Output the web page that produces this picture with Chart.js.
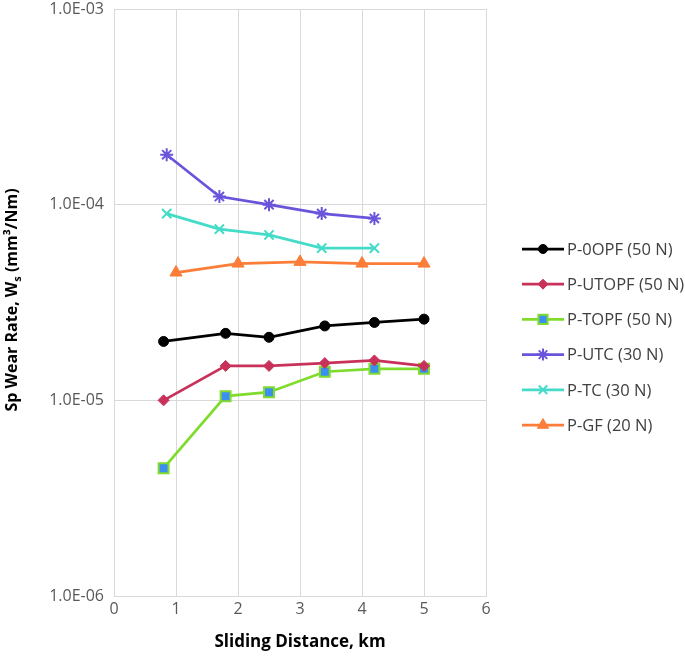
<!DOCTYPE html>
<html>
<head>
<meta charset="utf-8">
<script src="https://cdn.jsdelivr.net/npm/chart.js@4"></script>
<style>
  html, body { margin: 0; padding: 0; background: #fff; }
  #wrap { width: 685px; height: 657px; }
</style>
</head>
<body>
<div id="wrap"><canvas id="wearChart"></canvas></div>
<script>
// Series names (legend order)
const seriesNames = [
  "P-0OPF (50 N)",
  "P-UTOPF (50 N)",
  "P-TOPF (50 N)",
  "P-UTC (30 N)",
  "P-TC (30 N)",
  "P-GF (20 N)",
];

// Sliding distance (km) for each series
const distOPF = [0.8, 1.8, 2.5, 3.4, 4.2, 5];
const distUTC = [0.85, 1.7, 2.5, 3.35, 4.2];
const distTC = [0.85, 1.7, 2.5, 3.35, 4.2];
const distGF = [1, 2, 3, 4, 5];

// Specific wear rate values (mm3/Nm)
const wear0OPF = [2.0e-5, 2.2e-5, 2.1e-5, 2.4e-5, 2.5e-5, 2.6e-5];
const wearUTOPF = [1.0e-5, 1.5e-5, 1.5e-5, 1.55e-5, 1.6e-5, 1.5e-5];
const wearTOPF = [4.5e-6, 1.05e-5, 1.1e-5, 1.4e-5, 1.45e-5, 1.45e-5];
const wearUTC = [1.8e-4, 1.1e-4, 1.0e-4, 9.0e-5, 8.5e-5];
const wearTC = [9.0e-5, 7.5e-5, 7.0e-5, 6.0e-5, 6.0e-5];
const wearGF = [4.5e-5, 5.0e-5, 5.1e-5, 5.0e-5, 5.0e-5];

// Axis ticks
const xTicks = [0, 1, 2, 3, 4, 5, 6];
const yTicks = [1e-6, 1e-5, 1e-4, 1e-3];

// Styles per series
const seriesStyles = [
  { color: "#000000", fill: "#000000", point: "circle", radius: 5, bw: 1 },
  { color: "#c8325a", fill: "#c8325a", point: "rectRot", radius: 5.5, bw: 1 },
  { color: "#80dc2c", fill: "#3b8ff0", point: "rect", radius: 7, bw: 2 },
  { color: "#6a54dc", fill: "#6a54dc", point: "star", radius: 6.5, bw: 2 },
  { color: "#44dcc8", fill: "#44dcc8", point: "crossRot", radius: 6.5, bw: 2 },
  { color: "#fb7d38", fill: "#fb7d38", point: "triangle", radius: 7, bw: 1 },
];

const seriesX = [distOPF, distOPF, distOPF, distUTC, distTC, distGF];
const seriesY = [wear0OPF, wearUTOPF, wearTOPF, wearUTC, wearTC, wearGF];

// Format like Excel scientific: 1.0E-04
function formatSci(value) {
  const exp = Math.round(Math.log10(value));
  const mant = value / Math.pow(10, exp);
  const sign = exp < 0 ? "-" : "+";
  return mant.toFixed(1) + "E" + sign + String(Math.abs(exp)).padStart(2, "0");
}

const datasets = seriesNames.map((name, i) => ({
  label: name,
  data: seriesX[i].map((x, j) => ({ x: x, y: seriesY[i][j] })),
  borderColor: seriesStyles[i].color,
  backgroundColor: seriesStyles[i].fill,
  pointBorderColor: seriesStyles[i].color,
  pointBackgroundColor: seriesStyles[i].fill,
  pointStyle: seriesStyles[i].point,
  pointRadius: seriesStyles[i].radius,
  pointBorderWidth: seriesStyles[i].bw,
  borderWidth: 2.75,
  tension: 0,
  fill: false,
}));

// Draws axis titles (with subscript) and the legend on the right
const decorPlugin = {
  id: "decor",
  afterDraw(chart) {
    const ctx = chart.ctx;
    ctx.save();
    ctx.fillStyle = "#000";
    ctx.textBaseline = "alphabetic";

    // x axis title
    ctx.font = "bold 17px 'Open Sans'";
    ctx.textAlign = "center";
    ctx.fillText("Sliding Distance, km", 300, 647);

    // y axis title, rotated, with subscript s
    const part1 = "Sp Wear Rate, W";
    const sub = "s";
    const part2 = " (mm³/Nm)";
    ctx.font = "bold 16px 'Open Sans'";
    const w1 = ctx.measureText(part1).width;
    const w3 = ctx.measureText(part2).width;
    ctx.font = "bold 11px 'Open Sans'";
    const w2 = ctx.measureText(sub).width;
    const total = w1 + w2 + w3;
    ctx.translate(17, 300);
    ctx.rotate(-Math.PI / 2);
    ctx.textAlign = "left";
    let x0 = -total / 2;
    ctx.font = "bold 16px 'Open Sans'";
    ctx.fillText(part1, x0, 0);
    ctx.font = "bold 11px 'Open Sans'";
    ctx.fillText(sub, x0 + w1, 4);
    ctx.font = "bold 16px 'Open Sans'";
    ctx.fillText(part2, x0 + w1 + w2, 0);
    ctx.restore();

    // legend
    ctx.save();
    ctx.font = "16.5px 'Open Sans'";
    ctx.textAlign = "left";
    ctx.textBaseline = "middle";
    seriesNames.forEach((name, i) => {
      const y = 249 + i * 35.2;
      const st = seriesStyles[i];
      ctx.strokeStyle = st.color;
      ctx.lineWidth = 2.75;
      ctx.beginPath();
      ctx.moveTo(522, y);
      ctx.lineTo(564, y);
      ctx.stroke();
      ctx.fillStyle = st.fill;
      ctx.strokeStyle = st.color;
      ctx.lineWidth = st.bw;
      Chart.helpers.drawPoint(ctx, {
        pointStyle: st.point,
        radius: st.radius - 0.5,
        borderWidth: st.bw,
      }, 543, y);
      ctx.fillStyle = "#404040";
      ctx.fillText(name, 567, y + 1);
    });
    ctx.restore();
  },
};

new Chart(document.getElementById("wearChart"), {
  type: "line",
  data: { datasets: datasets },
  options: {
    responsive: true,
    maintainAspectRatio: false,
    animation: false,
    layout: {
      padding: { top: 8, right: 199, left: 0, bottom: 0 },
    },
    plugins: {
      legend: { display: false },
      tooltip: { enabled: false },
    },
    scales: {
      x: {
        type: "linear",
        min: 0,
        max: 6,
        afterBuildTicks: (scale) => {
          scale.ticks = xTicks.map((v) => ({ value: v }));
        },
        afterFit: (scale) => {
          scale.height = 61;
          scale.paddingLeft = 0;
          scale.paddingRight = 0;
        },
        grid: { color: "#d9d9d9", lineWidth: 1, drawTicks: false },
        border: { color: "#d9d9d9" },
        ticks: {
          color: "#595959",
          font: { family: "'Open Sans'", size: 16 },
          padding: 4,
        },
      },
      y: {
        type: "logarithmic",
        min: 1e-6,
        max: 1e-3,
        afterBuildTicks: (scale) => {
          scale.ticks = yTicks.map((v) => ({ value: v }));
        },
        afterFit: (scale) => {
          scale.width = 114;
          scale.paddingTop = 0;
          scale.paddingBottom = 0;
        },
        grid: { color: "#d9d9d9", lineWidth: 1, drawTicks: false },
        border: { color: "#d9d9d9" },
        ticks: {
          color: "#595959",
          font: { family: "'Open Sans'", size: 16 },
          padding: 10,
          callback: (value) => formatSci(value),
        },
      },
    },
  },
  plugins: [decorPlugin],
});
</script>
</body>
</html>
